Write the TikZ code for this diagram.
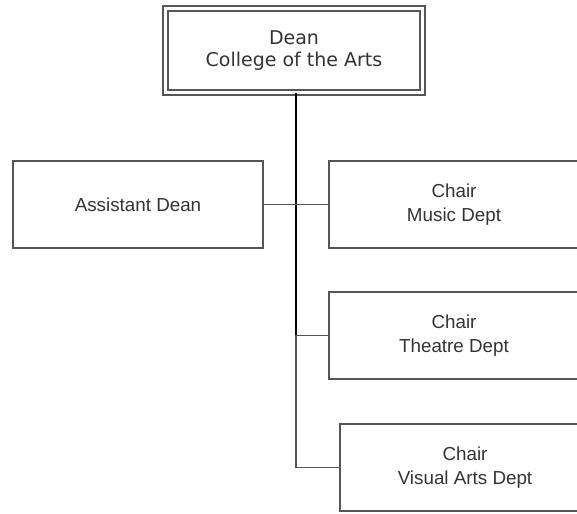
\documentclass[tikz,border=0pt]{standalone}
\usepackage{fontspec}
\setmainfont{Liberation Sans}
\newfontfamily\deanfont{DejaVu Sans}
\definecolor{boxline}{HTML}{555555}
\definecolor{inktext}{HTML}{333333}
\tikzset{
  orgbox/.style={draw=boxline, line width=1.5pt, fill=white, rectangle,
    minimum width=250pt, minimum height=87pt, inner sep=0pt,
    align=center, text=inktext, font=\fontsize{18.8}{23.5}\selectfont},
  topbox/.style={draw=boxline, line width=1.3pt, double=white, double distance=3.7pt,
    rectangle, minimum width=257pt, minimum height=84pt, inner sep=0pt,
    align=center, text=inktext, font=\deanfont\fontsize{19}{22}\selectfont},
  trunk/.style={draw=black, line width=2pt},
  branch/.style={draw=boxline, line width=1.5pt}
}
\begin{document}
\begin{tikzpicture}[x=1pt,y=-1pt]
  \useasboundingbox[fill=white] (0,0) rectangle (577,513);

  % boxes
  \node[topbox] (dean) at (294,50.5) {Dean\\College of the Arts};
  \node[orgbox] (asst) at (138,204.5) {Assistant Dean};
  \node[orgbox] (music) at (454,204.5) {Chair\\Music Dept};
  \node[orgbox] (theatre) at (454,335.5) {Chair\\Theatre Dept};
  \node[orgbox] (visual) at (465,467.5) {Chair\\Visual Arts Dept};

  % junctions on the vertical trunk
  \coordinate (j1) at (296,204.5);
  \coordinate (j2) at (296,335.5);
  \coordinate (j3) at (296,467.5);

  % connectors
  \draw[trunk] (dean.south -| j1) -- (j1);
  \draw[trunk] (j1) -- (j2);
  \draw[branch] (asst.east) -- (j1) -- (music.west);
  \draw[branch] (j2) -- (theatre.west);
  \draw[branch, line cap=rect] (j2) -- (j3) -- (visual.west);
\end{tikzpicture}
\end{document}
